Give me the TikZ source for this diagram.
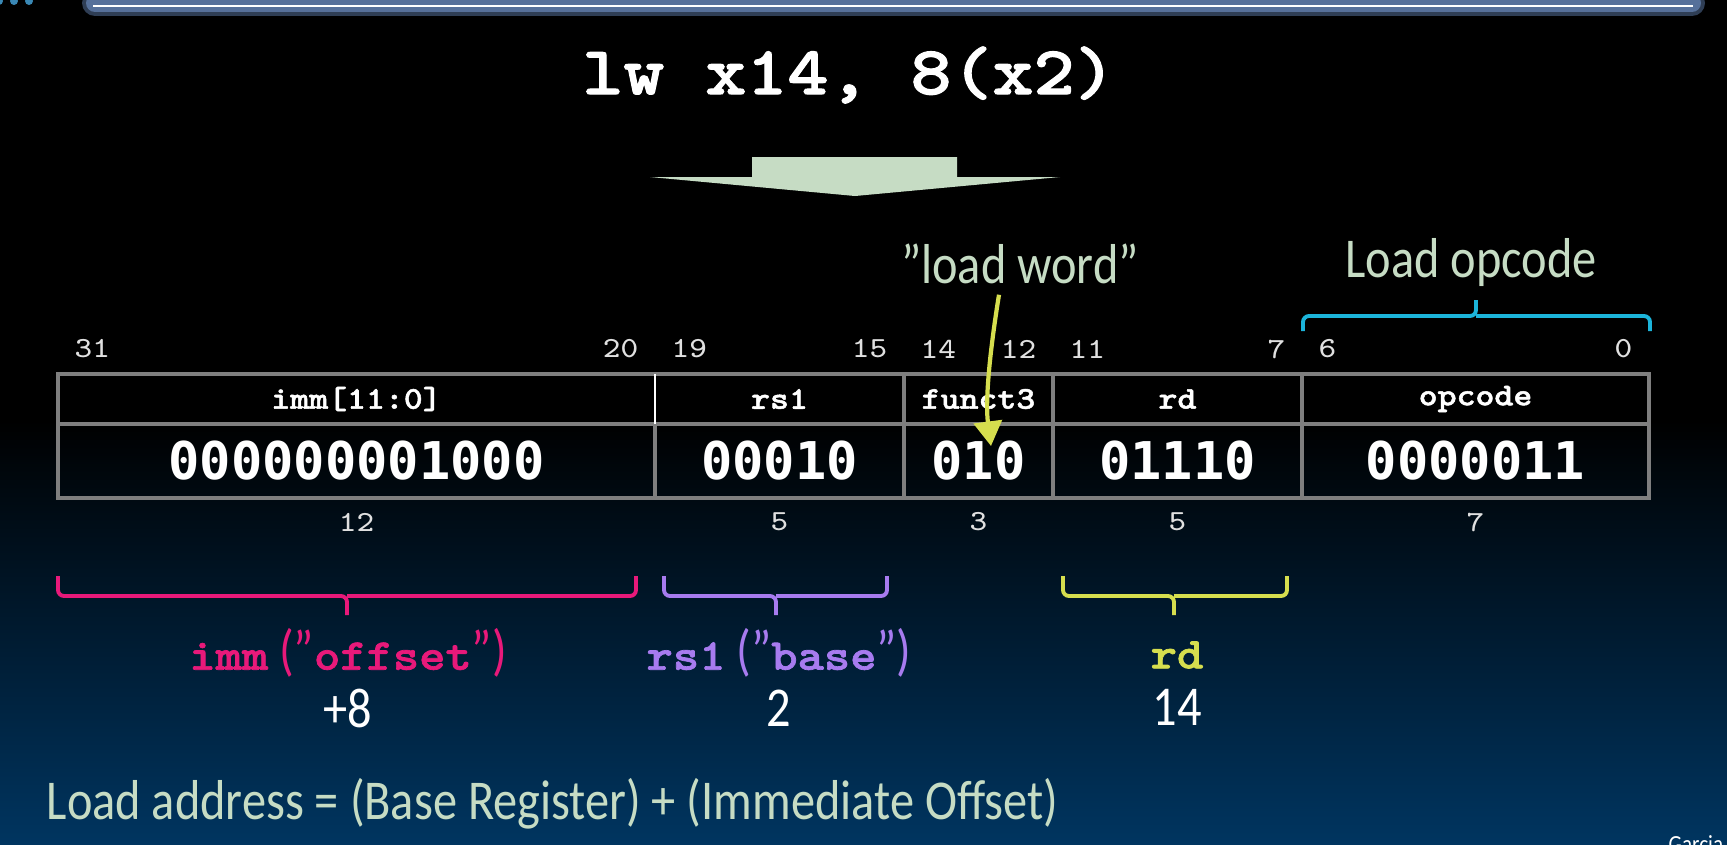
\documentclass[tikz,border=0pt]{standalone}
\usepackage{fontspec}
\setmainfont{Carlito}[FakeStretch=0.86]
\setmonofont{Latin Modern Mono}[FakeStretch=1.14]
\newfontfamily\slabbold{lmmonolt10-bold.otf}[FakeStretch=1.14, FakeBold=1.6]
\newfontfamily\valfont{DejaVu Sans Mono}
\usetikzlibrary{positioning,calc,arrows.meta}

\definecolor{sage}{HTML}{C6DCC4}
\definecolor{immpink}{HTML}{E8197A}
\definecolor{basepurple}{HTML}{A77BEF}
\definecolor{rdyellow}{HTML}{D6DE4E}
\definecolor{opcyan}{HTML}{1CB4DA}
\definecolor{gridgrey}{HTML}{7F7F7F}
\definecolor{deepnavy}{HTML}{003560}
\definecolor{barblue}{HTML}{56709A}
\definecolor{dotblue}{HTML}{3A88B5}

\newcommand{\codeword}[1]{{\slabbold\fontsize{12.5}{14}\selectfont #1}}

\begin{document}
\begin{tikzpicture}[x=0.1mm, y=-0.1mm,
  every node/.style={inner sep=0pt},
  bitno/.style={font=\ttfamily\fontsize{8.3}{9}\selectfont, text=white!88!black},
  hdr/.style={font=\slabbold\fontsize{9}{10}\selectfont, text=white},
  val/.style={font=\valfont\bfseries\fontsize{14.8}{16}\selectfont, text=white},
  sagetext/.style={font=\fontsize{16}{18}\selectfont, text=sage},
  fieldname/.style={font=\fontsize{16}{18}\selectfont},
  regval/.style={font=\fontsize{16}{18}\selectfont, text=white},
  cell/.style={draw=gridgrey, line width=1.1pt},
  brace/.style={line width=1.1pt, rounded corners=0.6mm},
  wordarrow/.style={rdyellow, line width=1.2pt, -{Triangle[width=8pt,length=7pt]}}]

  % background
  \useasboundingbox (0,0) rectangle (1727,844);
  \fill[black] (0,0) rectangle (1727,844);
  \shade[top color=black, bottom color=deepnavy] (0,420) rectangle (1727,844);

  % slide header
  \foreach \x in {-1,14,29} \fill[dotblue] (\x,1) circle (0.4mm);
  \draw[barblue!55!black, line width=2.6mm, line cap=round] (95,3) -- (1692,3);
  \draw[barblue, line width=1.8mm, line cap=round] (95,3) -- (1692,3);
  \draw[white, line width=0.7pt] (93,6) -- (1693,6);

  \node[font=\slabbold\fontsize{19.5}{22}\selectfont, text=white] (instr) at (849,75) {lw x14, 8(x2)};
  \fill[sage] (752,157) -- (957,157) -- (957,177) -- (1060,177) -- (855,196) -- (650,177) -- (752,177) -- cycle;

  % instruction fields
  \draw[cell] (58,374) rectangle (1649,498);
  \draw[cell] (58,424) -- (1649,424);
  \foreach \x in {904,1053,1302} \draw[cell] (\x,374) -- (\x,498);
  \draw[cell] (655,424) -- (655,498);
  \draw[white, line width=0.5pt] (655,374) -- (655,424);

  \foreach \nm/\l/\r/\hi/\lo/\w/\h/\v in {imm/58/655/31/20/12/imm[11:0]/000000001000,
      rsa/655/904/19/15/5/rs1/00010, fn/904/1053/14/12/3/funct3/010,
      rd/1053/1302/11/7/5/rd/01110, op/1302/1649/6/0/7/opcode/0000011} {
    \node[bitno, anchor=west] (\nm hi) at (\l+16,349) {\hi};
    \node[bitno, anchor=east] (\nm lo) at (\r-16,349) {\lo};
    \node[hdr] (\nm h) at ({(\l+\r)/2},399) {\h};
    \node[val] (\nm v) at ({(\l+\r)/2},461) {\v};
    \node[bitno] (\nm w) at ({(\l+\r)/2},522) {\w};
  }

  % load word / opcode notes
  \node[sagetext] (word) at (1020,264) {”load word”};
  \coordinate (wordtip) at (991,446);
  \draw[wordarrow] ($(word.south)+(-21,10)$) .. controls (990,350) and (985,400) .. (wordtip);

  \node[sagetext] (opnote) at (1471,262) {Load opcode};
  \draw[opcyan, brace] (1303,331) |- (1476,316) -- (1476,300);
  \draw[opcyan, brace] (1650,331) |- (1476,316);

  % braces below the fields
  \draw[immpink, brace] (58,576) |- (347,596) -- (347,615);
  \draw[immpink, brace] (636,576) |- (347,596);
  \draw[basepurple, brace] (664,576) |- (776,596) -- (776,615);
  \draw[basepurple, brace] (887,576) |- (776,596);
  \draw[rdyellow, brace] (1063,576) |- (1174,596) -- (1174,615);
  \draw[rdyellow, brace] (1287,576) |- (1174,596);

  \node[fieldname, text=immpink] (immlab) at (348,653) {\codeword{imm} (”\codeword{offset}”)};
  \node[fieldname, text=basepurple] (baselab) at (779,653) {\codeword{rs1} (”\codeword{base}”)};
  \node[fieldname, text=rdyellow] (rdlab) at (1177,655) {\codeword{rd}};
  \node[regval] (immnum) at (348,708) {+8};
  \node[regval] (basenum) at (779,708) {2};
  \node[regval] (rdnum) at (1177,707) {14};

  \node[sagetext, anchor=west] (addr) at (46,804) {Load address = (Base Register) + (Immediate Offset)};
  \node[font=\fontsize{7}{8}\selectfont, text=white, anchor=north west] (credit) at (1668,835) {Garcia};
\end{tikzpicture}
\end{document}
